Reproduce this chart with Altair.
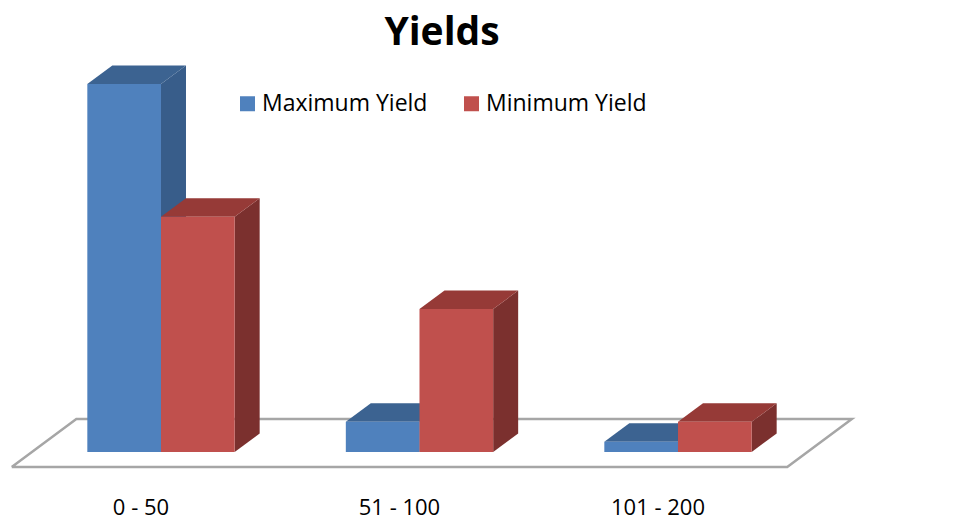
import altair as alt
import pandas as pd

# ---- data ----
categories = ["0 - 50", "51 - 100", "101 - 200"]
series = ["Maximum Yield", "Minimum Yield"]
max_yield = [90.1, 7.4, 2.5]
min_yield = [57.6, 35.0, 7.4]

front_colors = ["#4F81BD", "#C0504D"]
top_colors = ["#3C6391", "#963A37"]
side_colors = ["#385D8A", "#7B302E"]

# ---- layout of the pseudo-3D drawing (group units / value units) ----
W, H = 958, 521
BW = 0.285          # bar width in category units
DX = 0.0967         # depth shift along x, category units
DY = 4.53           # depth shift along y, value units
FLOOR_FRONT = (-0.0774, -3.67)
FLOOR_BACK = (0.1725, 8.08)
XDOM = [-0.6228, 3.0832]
YDOM = [-16.90, 110.70]

values = [max_yield, min_yield]

front_rows, side_rows, top_rows = [], [], []
for i, cat in enumerate(categories):
    for s, name in enumerate(series):
        v = values[s][i]
        x1 = i + (s - 1) * BW
        x2 = x1 + BW
        face = f"{cat}|{name}"
        front_rows.append(dict(cat=cat, series=name, x=x1, x2=x2, y=0.0, y2=v))
        side_rows += [
            dict(face=face, c=side_colors[s], x=x2, y=0.0, y2=v),
            dict(face=face, c=side_colors[s], x=x2 + DX, y=DY, y2=v + DY),
        ]
        top_rows += [
            dict(face=face, c=top_colors[s], x=x1, y=v, y2=v),
            dict(face=face, c=top_colors[s], x=x1 + DX, y=v, y2=v + DY),
            dict(face=face, c=top_colors[s], x=x2, y=v, y2=v + DY),
            dict(face=face, c=top_colors[s], x=x2 + DX, y=v + DY, y2=v + DY),
        ]

n = len(categories)
fl, fr = -0.5, n - 0.5
floor_rows = [
    dict(o=0, x=fl + FLOOR_FRONT[0], y=FLOOR_FRONT[1]),
    dict(o=1, x=fr + FLOOR_FRONT[0], y=FLOOR_FRONT[1]),
    dict(o=2, x=fr + FLOOR_BACK[0], y=FLOOR_BACK[1]),
    dict(o=3, x=fl + FLOOR_BACK[0], y=FLOOR_BACK[1]),
    dict(o=4, x=fl + FLOOR_FRONT[0], y=FLOOR_FRONT[1]),
]
label_rows = [dict(cat=c, x=i + FLOOR_FRONT[0]) for i, c in enumerate(categories)]

xs = alt.Scale(domain=XDOM, nice=False, zero=False)
ys = alt.Scale(domain=YDOM, nice=False, zero=False)
X = alt.X("x:Q", scale=xs, axis=None)
Y = alt.Y("y:Q", scale=ys, axis=None)

floor = alt.Chart(pd.DataFrame(floor_rows)).mark_line(
    color="#A6A6A6", strokeWidth=2.5, strokeJoin="miter"
).encode(x=X, y=Y, order="o:Q")

sides = alt.Chart(pd.DataFrame(side_rows)).mark_area(orient="vertical").encode(
    x=X, y=Y, y2="y2:Q", detail="face:N", color=alt.Color("c:N", scale=None)
)
tops = alt.Chart(pd.DataFrame(top_rows)).mark_area(orient="vertical").encode(
    x=X, y=Y, y2="y2:Q", detail="face:N", color=alt.Color("c:N", scale=None)
)
fronts = alt.Chart(pd.DataFrame(front_rows)).mark_rect().encode(
    x=X, x2="x2:Q", y=Y, y2="y2:Q",
    color=alt.Color(
        "series:N",
        scale=alt.Scale(domain=series, range=front_colors),
        legend=alt.Legend(
            orient="none", legendX=236, legendY=92, direction="horizontal",
            title=None, symbolType="square", symbolSize=225, symbolStrokeWidth=0,
            labelFont="Open Sans", labelFontSize=23, labelColor="#000000",
            labelOffset=3, columnPadding=32, padding=0, labelLimit=400,
        ),
    ),
)

labels = alt.Chart(pd.DataFrame(label_rows)).mark_text(
    font="Open Sans", fontSize=22, color="#000000", baseline="alphabetic", align="center"
).encode(x=X, y=alt.value(515), text="cat:N")

title = alt.Chart(pd.DataFrame({"t": ["Yields"]})).mark_text(
    font="Open Sans", fontSize=39, fontWeight="bold", color="#000000",
    baseline="alphabetic", align="center"
).encode(x=alt.value(442), y=alt.value(45), text="t:N")

chart = alt.layer(floor, sides, tops, fronts, labels, title).properties(
    width=W, height=H, autosize=alt.AutoSizeParams(type="none"), padding=0,
    background="#FFFFFF",
).configure_view(stroke=None)

chart.save("out.html", embed_options={"renderer": "svg", "actions": False})
